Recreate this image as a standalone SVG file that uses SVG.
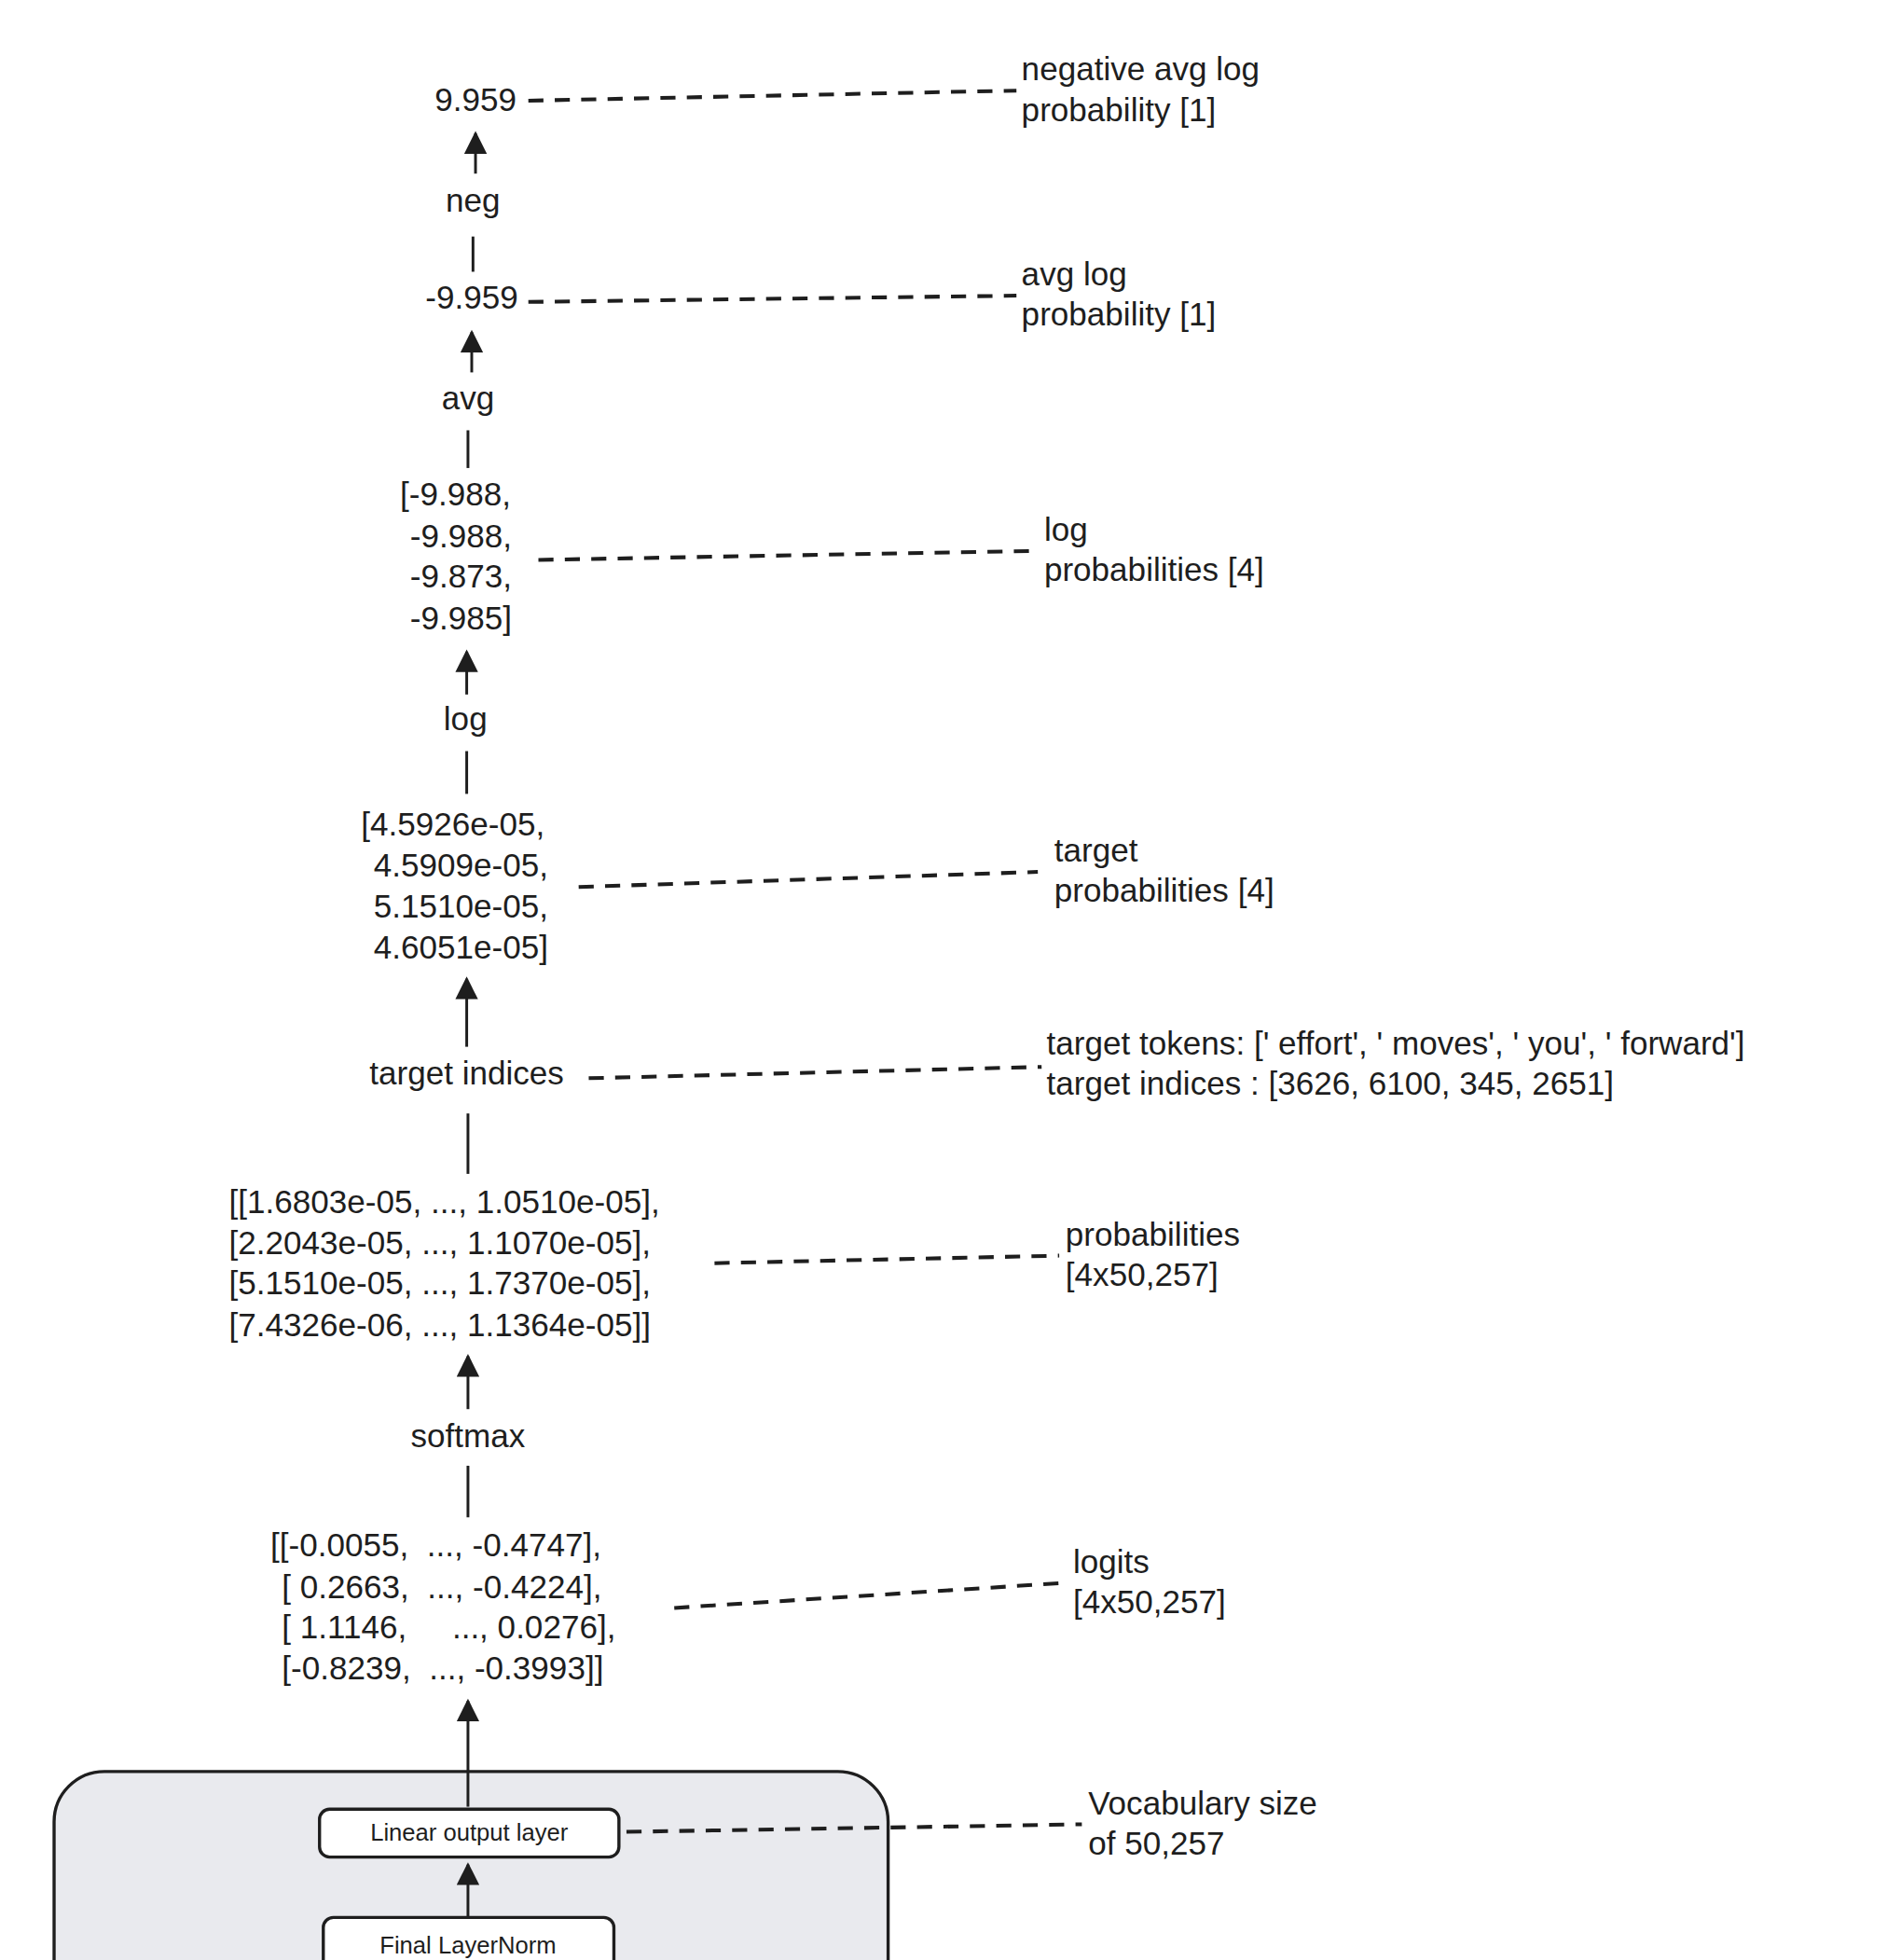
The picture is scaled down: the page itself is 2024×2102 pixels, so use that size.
<svg xmlns="http://www.w3.org/2000/svg" width="2024" height="2102" viewBox="0 0 2024 2102">
<defs>
<marker id="ah" viewBox="0 0 10 10" refX="9" refY="5" markerWidth="22" markerHeight="18" orient="auto" markerUnits="userSpaceOnUse"><path d="M0,0 L10,5 L0,10 z" fill="#1e1e1e"/></marker>
<style>
text{font-family:"Liberation Sans",Arial,sans-serif;fill:#1e1e1e;font-size:26px}
.c{text-anchor:middle}
.s{font-size:19px}
.d{stroke:#1e1e1e;stroke-width:3;stroke-dasharray:12 9;fill:none}
.l{stroke:#1e1e1e;stroke-width:2.2;fill:none}
</style>
</defs>
<rect width="2024" height="2102" fill="#fff"/>
<g transform="scale(1.3493)">
<g id="container"><rect x="43" y="1408" width="663" height="220" rx="40" fill="#e9eaee" stroke="#1e1e1e" stroke-width="2.5"/></g>
<g id="connectors">
<path class="d" d="M420,80 L808,72"/>
<path class="d" d="M420,240 L808,235"/>
<path class="d" d="M428,445 L818,438"/>
<path class="d" d="M460,705 L825,693"/>
<path class="d" d="M468,857 L828,848"/>
<path class="d" d="M568,1004 L842,998"/>
<path class="d" d="M536,1278 L848,1258"/>
<path class="d" d="M498,1456 L860,1450"/>
<line class="l" x1="378" y1="138" x2="378" y2="106" marker-end="url(#ah)"/>
<line class="l" x1="376" y1="188" x2="376" y2="216"/>
<line class="l" x1="375" y1="296" x2="375" y2="264" marker-end="url(#ah)"/>
<line class="l" x1="372" y1="342" x2="372" y2="372"/>
<line class="l" x1="371" y1="552" x2="371" y2="518" marker-end="url(#ah)"/>
<line class="l" x1="371" y1="597" x2="371" y2="631"/>
<line class="l" x1="371" y1="832" x2="371" y2="778" marker-end="url(#ah)"/>
<line class="l" x1="372" y1="885" x2="372" y2="933"/>
<line class="l" x1="372" y1="1120" x2="372" y2="1078" marker-end="url(#ah)"/>
<line class="l" x1="372" y1="1165" x2="372" y2="1206"/>
<line class="l" x1="372" y1="1436" x2="372" y2="1352" marker-end="url(#ah)"/>
<line class="l" x1="372" y1="1524" x2="372" y2="1482" marker-end="url(#ah)"/>
</g>
<g id="n-loss"><text class="c" x="378" y="88">9.959</text></g>
<g id="lbl-loss"><text x="812" y="64">negative avg log</text><text x="812" y="96">probability [1]</text></g>
<g id="op-neg"><text class="c" x="376" y="168">neg</text></g>
<g id="n-avg"><text class="c" x="375" y="245">-9.959</text></g>
<g id="lbl-avg"><text x="812" y="227">avg log</text><text x="812" y="259">probability [1]</text></g>
<g id="op-avg"><text class="c" x="372" y="325">avg</text></g>
<g id="n-log"><text x="318" y="402">[-9.988,</text><text x="326" y="435">-9.988,</text><text x="326" y="467">-9.873,</text><text x="326" y="500">-9.985]</text></g>
<g id="lbl-log"><text x="830" y="430">log</text><text x="830" y="462">probabilities [4]</text></g>
<g id="op-log"><text class="c" x="370" y="580">log</text></g>
<g id="n-tp"><text x="287" y="664">[4.5926e-05,</text><text x="297" y="697">4.5909e-05,</text><text x="297" y="729">5.1510e-05,</text><text x="297" y="762">4.6051e-05]</text></g>
<g id="lbl-tp"><text x="838" y="685">target</text><text x="838" y="717">probabilities [4]</text></g>
<g id="op-ti"><text class="c" x="371" y="862">target indices</text></g>
<g id="lbl-ti"><text x="832" y="838">target tokens: [' effort', ' moves', ' you', ' forward']</text><text x="832" y="870">target indices : [3626, 6100, 345, 2651]</text></g>
<g id="n-probs"><text x="182" y="964">[[1.6803e-05, ..., 1.0510e-05],</text><text x="182" y="997">[2.2043e-05, ..., 1.1070e-05],</text><text x="182" y="1029">[5.1510e-05, ..., 1.7370e-05],</text><text x="182" y="1062">[7.4326e-06, ..., 1.1364e-05]]</text></g>
<g id="lbl-probs"><text x="847" y="990">probabilities</text><text x="847" y="1022">[4x50,257]</text></g>
<g id="op-softmax"><text class="c" x="372" y="1150">softmax</text></g>
<g id="n-logits"><text x="215" y="1237" xml:space="preserve">[[-0.0055,  ..., -0.4747],</text><text x="224" y="1270" xml:space="preserve">[ 0.2663,  ..., -0.4224],</text><text x="224" y="1302" xml:space="preserve">[ 1.1146,     ..., 0.0276],</text><text x="224" y="1335" xml:space="preserve">[-0.8239,  ..., -0.3993]]</text></g>
<g id="lbl-logits"><text x="853" y="1250">logits</text><text x="853" y="1282">[4x50,257]</text></g>
<g id="n-linear"><rect x="254" y="1438" width="238" height="38" rx="8" fill="#fff" stroke="#1e1e1e" stroke-width="2.5"/><text class="c s" x="373" y="1463">Linear output layer</text></g>
<g id="lbl-vocab"><text x="865" y="1442">Vocabulary size</text><text x="865" y="1474">of 50,257</text></g>
<g id="n-ln"><rect x="257" y="1524" width="231" height="60" rx="8" fill="#fff" stroke="#1e1e1e" stroke-width="2.5"/><text class="c s" x="372" y="1553">Final LayerNorm</text></g>
</g>
</svg>
